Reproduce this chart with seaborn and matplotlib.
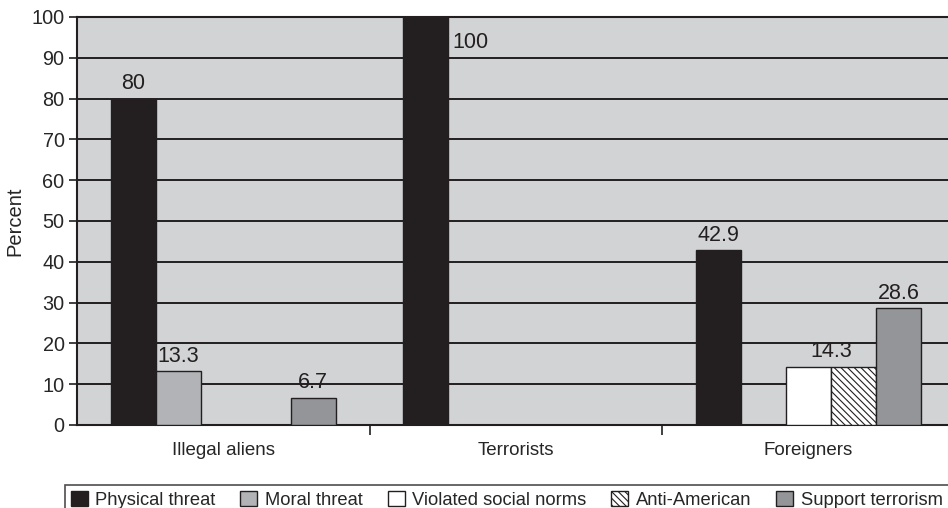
import matplotlib
matplotlib.use("Agg")
import matplotlib.pyplot as plt
import seaborn as sns
import pandas as pd
from matplotlib.patches import Patch

categories = ["Illegal aliens", "Terrorists", "Foreigners"]
series = ["Physical threat", "Moral threat", "Violated social norms", "Anti-American", "Support terrorism"]
physical = [80, 100, 42.9]
moral = [13.3, 0, 0]
violated = [0, 0, 14.3]
anti_american = [0, 0, 14.3]
support = [6.7, 0, 28.6]
yticks = list(range(0, 101, 10))

values = [physical, moral, violated, anti_american, support]
rows = []
for s, vals in zip(series, values):
    for c, v in zip(categories, vals):
        rows.append({"Category": c, "Series": s, "Percent": v})
df = pd.DataFrame(rows)

colors = ["#231f20", "#b1b3b6", "#ffffff", "#ffffff", "#939598"]
hatches = [None, None, None, "\\\\\\\\\\", None]

sns.set_theme(style="white")
plt.rcParams["font.family"] = ["Liberation Sans", "DejaVu Sans"]
plt.rcParams["hatch.linewidth"] = 0.8
plt.rcParams["hatch.color"] = "#231f20"

fig = plt.figure(figsize=(9.48, 5.08), dpi=100)
ax = fig.add_axes([77 / 948, 83 / 508, 871 / 948 * 1.0, 408 / 508])
ax.set_facecolor("#d1d3d4")

sns.barplot(data=df, x="Category", y="Percent", hue="Series", order=categories,
            hue_order=series, palette=colors, width=0.77, gap=0, ax=ax,
            edgecolor="#231f20", linewidth=1.0, saturation=1, legend=False, zorder=3)

for cont, h in zip(ax.containers, hatches):
    for bar in cont:
        if h:
            bar.set_hatch(h)
        if bar.get_height() == 0:
            bar.set_visible(False)

ax.set_ylim(0, 100)
ax.set_xlim(-0.5, -0.5 + 871 / 292.5)
ax.set_yticks(yticks)
ax.yaxis.grid(True, color="#231f20", linewidth=1.4, zorder=0)
ax.set_axisbelow(True)
for side in ["left", "bottom", "top"]:
    ax.spines[side].set_color("#231f20")
    ax.spines[side].set_linewidth(1.5)
ax.spines["right"].set_visible(False)

ax.tick_params(axis="y", length=6, width=1.2, color="#231f20", labelsize=14.3, pad=3, left=True)
ax.tick_params(axis="x", which="major", length=0, labelsize=13.5, pad=12)
ax.set_xticks([0.5, 1.5], minor=True)
ax.tick_params(axis="x", which="minor", length=7, width=1.2, color="#231f20", bottom=True)
ax.set_xlabel("")
ax.set_ylabel("Percent", fontsize=14.5, labelpad=5)

# value labels
label_fs = 15.5
conts = ax.containers
for ci in range(len(categories)):
    bars = [conts[si][ci] for si in range(len(series))]
    vals = [values[si][ci] for si in range(len(series))]
    si = 0
    while si < len(series):
        v = vals[si]
        if v <= 0:
            si += 1
            continue
        b = bars[si]
        x0 = b.get_x()
        x1 = b.get_x() + b.get_width()
        # merge adjacent equal bars into one label
        sj = si
        while sj + 1 < len(series) and vals[sj + 1] == v:
            sj += 1
            x1 = bars[sj].get_x() + bars[sj].get_width()
        txt = f"{v:g}"
        if v >= 100:
            ax.annotate(txt, (x1, v), xytext=(3, -11), textcoords="offset points",
                        ha="left", va="top", fontsize=label_fs, color="#231f20", zorder=5)
        else:
            ax.annotate(txt, ((x0 + x1) / 2, v), xytext=(0, 3), textcoords="offset points",
                        ha="center", va="bottom", fontsize=label_fs, color="#231f20", zorder=5)
        si = sj + 1

handles = [Patch(facecolor=c, edgecolor="#231f20", hatch=h, linewidth=1.0, label=s)
           for c, h, s in zip(colors, hatches, series)]
leg = fig.legend(handles=handles, loc="upper left", bbox_to_anchor=(65 / 948, 1 - 485 / 508),
                 ncol=5, frameon=True, fontsize=13.2, handlelength=0.93, handleheight=0.93,
                 handletextpad=0.42, columnspacing=1.35, borderpad=0.3, fancybox=False,
                 borderaxespad=0)
leg.get_frame().set_edgecolor("#231f20")
leg.get_frame().set_linewidth(1.2)

fig.savefig("out.png", dpi=100)
